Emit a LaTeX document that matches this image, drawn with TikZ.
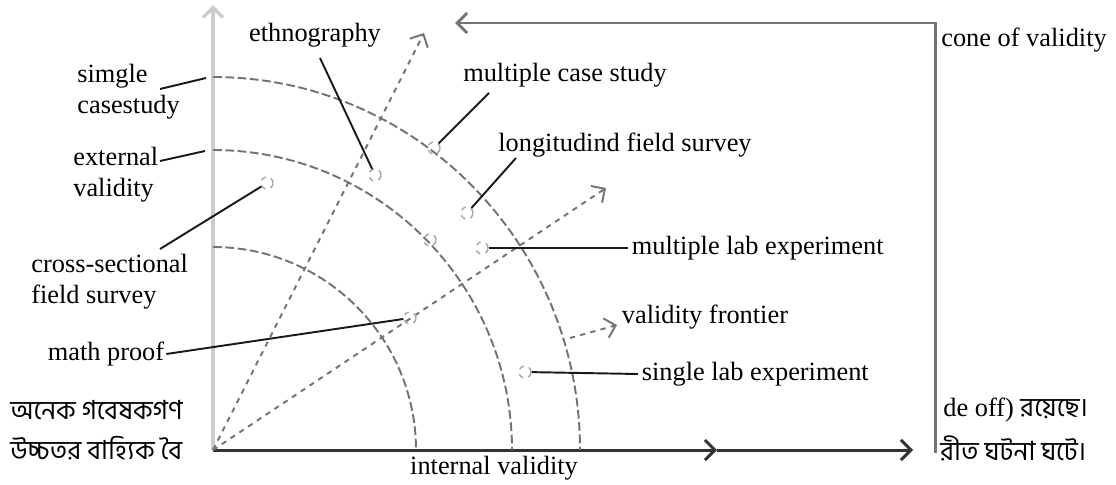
\documentclass[tikz,border=0pt]{standalone}
\usepackage{fontspec}
\setmainfont{Liberation Serif}
\newfontfamily\bnfont[Script=Bengali]{Hind Siliguri}
\usetikzlibrary{positioning, arrows.meta}

\begin{document}
\begin{tikzpicture}[x=0.02cm, y=-0.02cm,
      lbl/.style={font=\fontsize{15}{17.6}\selectfont, align=left, inner sep=0pt},
      bn/.style={font=\fontsize{15}{17.6}\selectfont\bnfont, inner sep=0pt, anchor=west},
      mk/.style={circle, draw=black!35, dashed, line width=0.8pt, minimum size=0.24cm, inner sep=0pt},
      ldr/.style={black!90, line width=1.1pt},
      tip/.style={-{Straight Barb[length=2mm, width=4mm]}},
      arcl/.style={black!55, line width=1.1pt, dash pattern=on 5pt off 2pt},
      ray/.style={black!55, line width=1.1pt, dash pattern=on 3pt off 3pt, tip},
      xax/.style={black!80, line width=1.7pt, tip},
      yax/.style={black!20, line width=2pt, tip},
      cone/.style={black!55, line width=1.7pt, tip}]
      \useasboundingbox (0,0) rectangle (1116,484);
      \node[bn] (b1) at (10,410) {অনেক গবেষকগণ};
      \node[bn] (b2) at (10,448) {উচ্চতর বাহ্যিক বৈ};
      \node[bn] (b3) at (943,410) {\rmfamily de off) \bnfont রয়েছে।};
      \node[bn] (b4) at (940,448) {রীত ঘটনা ঘটে।};
      \coordinate (o) at (213,450);
      \coordinate (ytop) at (213,5);
      \coordinate (xmid) at (717,450);
      \coordinate (xend) at (913,450);
      \coordinate (r1) at (424,33);
      \coordinate (r2) at (606,188);
      \coordinate (t1) at (213,77);
      \coordinate (t2) at (213,150);
      \coordinate (t3) at (213,247);
      \coordinate (cb) at (935,453);
      \coordinate (cl) at (455,23);
      \draw[yax] (o) -- (ytop);
      \draw[xax] (o) -- (xmid);\draw[xax] (xmid) -- (xend);
      \draw[cone] (cb) |- (cl);
      \draw[arcl] (t1) arc[start angle=-90, end angle=0, x radius=367, y radius=373];
      \draw[arcl] (t2) arc[start angle=-90, end angle=0, x radius=299, y radius=300];
      \draw[arcl] (t3) arc[start angle=-90, end angle=0, x radius=203, y radius=203];
      \draw[ray] (o) -- (r1);\draw[ray] (o) -- (r2);
      \node[mk] (m1) at (267,183) {};
      \node[mk] (m2) at (375,175) {};
      \node[mk] (m3) at (434,148) {};
      \node[mk] (m4) at (467,213) {};
      \node[mk] (m5) at (430,240) {};
      \node[mk] (m6) at (482,248) {};
      \node[mk] (m7) at (410,318) {};
      \node[mk] (m8) at (525,372) {};
      \node[lbl, anchor=west] (scs) at (77,92) {simgle\\casestudy};
      \node[lbl, anchor=west] (ev) at (73,175) {external\\validity};
      \node[lbl, anchor=west] (csf) at (31,282) {cross-sectional\\field survey};
      \node[lbl, inner sep=1pt] (mp) at (106,354) {math proof};
      \node[lbl] (eth) at (315,35) {ethnography};
      \node[lbl] (mcs) at (565,75) {multiple case study};
      \node[lbl] (lfs) at (625,145) {longitudind field survey};
      \node[lbl, anchor=west, inner sep=2pt] (mle) at (628,248) {multiple lab experiment};
      \node[lbl, anchor=west, inner sep=2pt] (vf) at (618,317) {validity frontier};
      \node[lbl, anchor=west, inner sep=2pt] (sle) at (638,374) {single lab experiment};
      \node[lbl, anchor=west] (cov) at (941,40) {cone of validity};
      \node[lbl] (iv) at (494,468) {internal validity};
      \coordinate (scsA) at (160,89);\coordinate (scsB) at (206,78);
      \coordinate (evA) at (160,161);\coordinate (evB) at (205,151);
      \coordinate (csfA) at (160,249);
      \coordinate (ethA) at (320,58);
      \coordinate (mcsA) at (489,93);
      \coordinate (lfsA) at (516,158);
      \coordinate (vfA) at (570,338);\coordinate (vfB) at (617,325);
      \draw[ldr] (scsA) -- (scsB);
      \draw[ldr] (evA) -- (evB);
      \draw[ldr] (csfA) -- (m1);
      \draw[ldr] (ethA) -- (m2);
      \draw[ldr] (mcsA) -- (m3);
      \draw[ldr] (lfsA) -- (m4);
      \draw[ldr] (m6) -- (mle.west);
      \draw[ldr] (m8) -- (sle.west);
      \draw[ldr] (mp.east) -- (m7);
      \draw[ray] (vfA) -- (vfB);
    \end{tikzpicture}
\end{document}
